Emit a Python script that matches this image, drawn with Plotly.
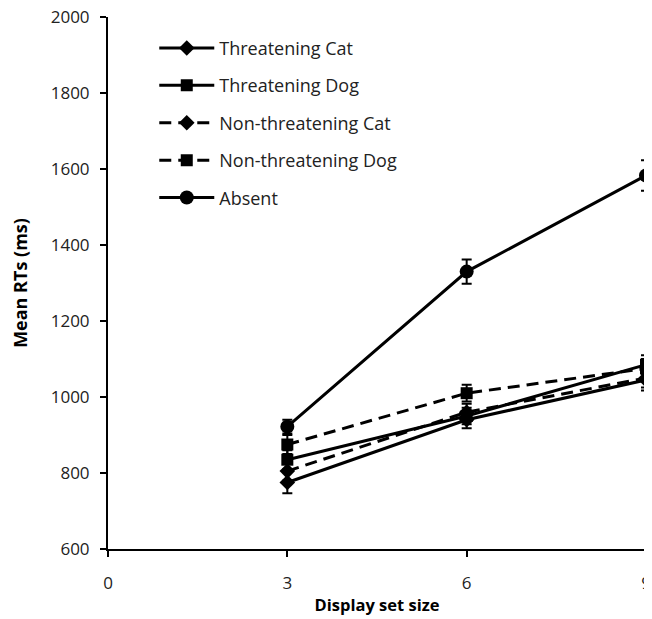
import plotly.graph_objects as go

set_sizes = [3, 6, 9]
series_names = ["Threatening Cat", "Threatening Dog", "Non-threatening Cat", "Non-threatening Dog", "Absent"]
threat_cat = [775, 940, 1045]
threat_dog = [835, 950, 1085]
nonthreat_cat = [805, 960, 1050]
nonthreat_dog = [875, 1010, 1075]
absent = [922, 1330, 1583]
err_threat_cat = [28, 22, 28]
err_threat_dog = [25, 22, 25]
err_nonthreat_cat = [25, 22, 25]
err_nonthreat_dog = [25, 22, 25]
err_absent = [18, 32, 40]

values = [threat_cat, threat_dog, nonthreat_cat, nonthreat_dog, absent]
errors = [err_threat_cat, err_threat_dog, err_nonthreat_cat, err_nonthreat_dog, err_absent]
symbols = ["diamond", "square", "diamond", "square", "circle"]
sizes = [12, 12, 12, 12, 14]
dashes = ["solid", "solid", "12px,7px", "12px,7px", "solid"]

fig = go.Figure()
for i, name in enumerate(series_names):
    fig.add_trace(go.Scatter(
        x=set_sizes, y=values[i], name=name, mode="lines+markers",
        legendgroup=name,
        line=dict(color="black", width=3, dash=dashes[i]),
        marker=dict(symbol=symbols[i], size=sizes[i], color="black"),
        error_y=dict(type="data", array=errors[i], visible=True, color="black", thickness=2, width=5),
        cliponaxis=False,
    ))

font = "Open Sans, Liberation Sans, sans-serif"
fig.update_layout(
    width=644, height=611,
    margin=dict(l=100, r=6, t=9, b=70, autoexpand=False),
    paper_bgcolor="white", plot_bgcolor="white",
    font=dict(family=font, size=17, color="#222"),
    showlegend=True,
    legend=dict(x=0.086, y=0.976, xanchor="left", yanchor="top", bgcolor="rgba(0,0,0,0)",
                font=dict(size=18, color="#222"), itemwidth=55, tracegroupgap=11,
                traceorder="grouped"),
    xaxis=dict(range=[0, 9], tickvals=[0, 3, 6, 9], showgrid=False, zeroline=False,
               showline=True, linecolor="black", linewidth=2, ticks="outside", ticklen=6,
               tickwidth=2, tickcolor="black", ticklabelstandoff=12, automargin=False,
               ticklabeloverflow="allow",
               title=dict(text="<b>Display set size</b>", font=dict(size=16.5, color="black"), standoff=6)),
    yaxis=dict(range=[600, 2000], tickvals=[600, 800, 1000, 1200, 1400, 1600, 1800, 2000],
               showgrid=False, zeroline=False, showline=True, linecolor="black", linewidth=2,
               ticks="outside", ticklen=6, tickwidth=2, tickcolor="black", automargin=False,
               ticklabelstandoff=7, ticklabeloverflow="allow",
               title=dict(text="<b>Mean RTs (ms)</b>", font=dict(size=18, color="black"), standoff=19)),
)
fig.write_html("out.html")
